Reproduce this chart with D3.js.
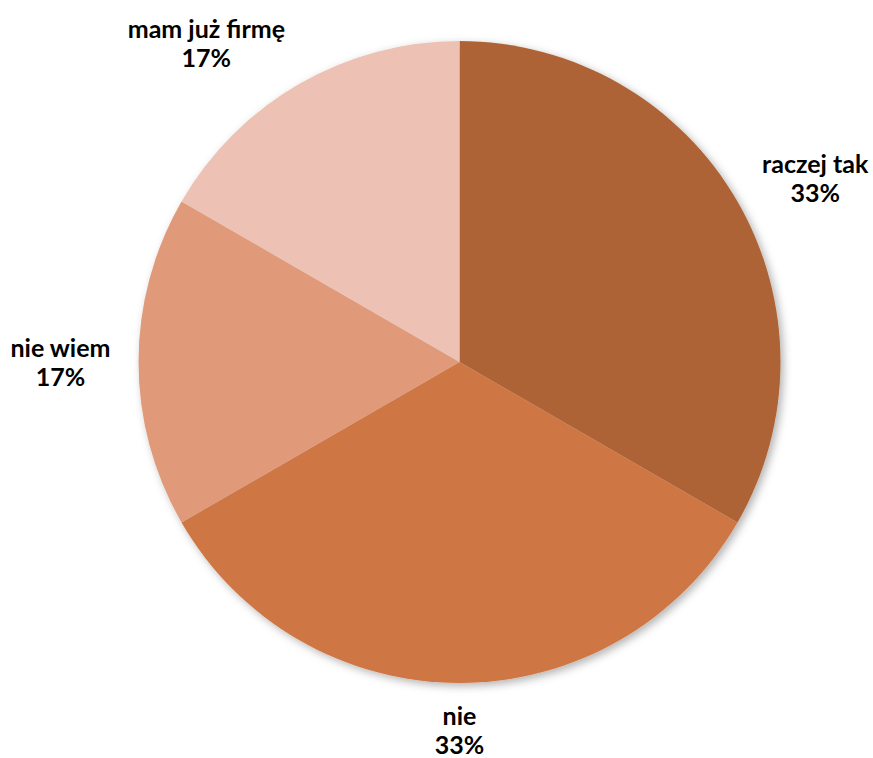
<!DOCTYPE html>
<html><head><meta charset="utf-8">
<script src="https://cdn.jsdelivr.net/npm/d3@7"></script>
<style>html,body{margin:0;padding:0;background:#fff;}</style>
</head><body>
<svg id="chart" width="873" height="758"></svg>
<script>
const categories = ["raczej tak", "nie", "nie wiem", "mam już firmę"];
const values = [2, 2, 1, 1];
const percentLabels = ["33%", "33%", "17%", "17%"];
const colors = ["#AD6436", "#CE7744", "#E09A7A", "#EDC2B4"];

const svg = d3.select("#chart");
const cx = 459.5, cy = 362, r = 321;
const defs = svg.append("defs");
const f = defs.append("filter").attr("id","sh").attr("x","-10%").attr("y","-10%").attr("width","120%").attr("height","120%");
f.append("feDropShadow").attr("dx",3).attr("dy",3).attr("stdDeviation",4).attr("flood-color","#000").attr("flood-opacity",0.3);

const pie = d3.pie().sort(null).value(d=>d)(values);
const arc = d3.arc().innerRadius(0).outerRadius(r);
const g = svg.append("g").attr("transform",`translate(${cx},${cy})`);
const gs = g.append("g").attr("filter","url(#sh)");
gs.selectAll("path").data(pie).join("path")
  .attr("d", arc).attr("fill",(d,i)=>colors[i]);

const font = "'Century Gothic','Lato','Noto Sans',sans-serif";
const gx = 28, gy = 18, lh = 29, fs = 25;
pie.forEach((d,i)=>{
  const a = (d.startAngle+d.endAngle)/2;
  const s = Math.sin(a), c = Math.cos(a);
  const t = g.append("text").attr("font-family",font).attr("font-weight","bold")
    .attr("font-size",fs).attr("fill","#000").attr("text-anchor","middle");
  t.append("tspan").attr("x",0).attr("dy",0).text(categories[i]);
  t.append("tspan").attr("x",0).attr("dy",lh).text(percentLabels[i]);
  const bb = t.node().getBBox();
  const w = bb.width, h = 2*lh;
  const px = (r+gx)*s, py = -(r+gy)*c;
  const dx = Math.abs(s) > 0.3 ? Math.sign(s)*w/2 : 0;
  const dy = -c*h/2;
  const ccx = px+dx, ccy = py+dy;
  t.attr("transform",`translate(${ccx},${ccy - lh/2 + 9})`);
});
</script>
</body></html>
